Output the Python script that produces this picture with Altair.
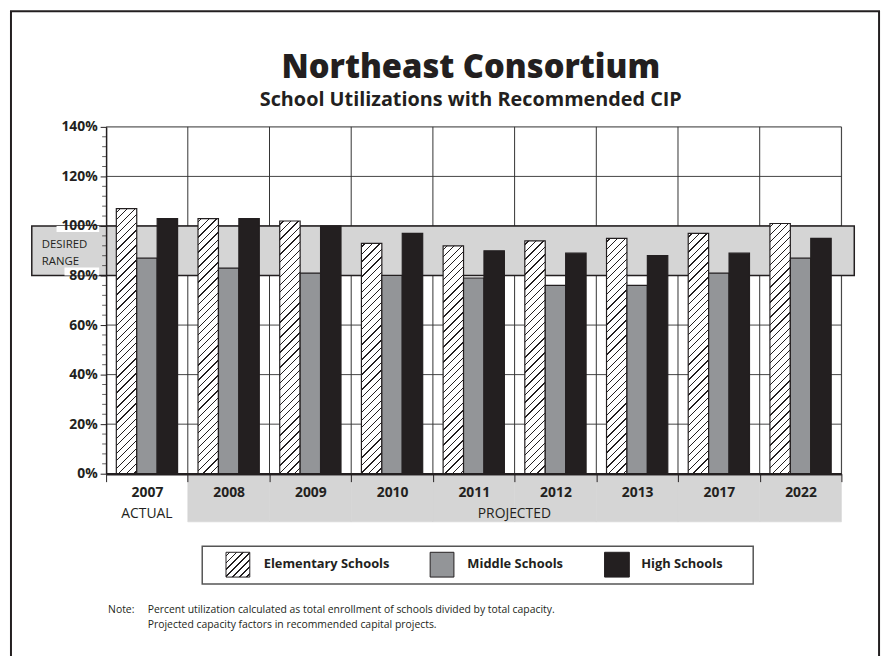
import altair as alt
import pandas as pd

# ---------------- data ----------------
years = ["2007", "2008", "2009", "2010", "2011", "2012", "2013", "2017", "2022"]
schools = ["Elementary Schools", "Middle Schools", "High Schools"]
elementary = [107, 103, 102, 93, 92, 94, 95, 97, 101]
middle = [87, 83, 81, 80, 79, 76, 76, 81, 87]
high = [103, 103, 100, 97, 90, 89, 88, 89, 95]
y_ticks = [0, 20, 40, 60, 80, 100, 120, 140]
y_minor = [4, 8, 12, 16, 24, 28, 32, 36, 44, 48, 52, 56, 64, 68, 72, 76,
           84, 88, 92, 96, 104, 108, 112, 116, 124, 128, 132, 136]
desired_range = [80, 100]
title = "Northeast Consortium"
subtitle = "School Utilizations with Recommended CIP"
note_lines = ["Percent utilization calculated as total enrollment of schools divided by total capacity.",
              "Projected capacity factors in recommended capital projects."]

# ---------------- style ----------------
FONT = "Open Sans"
INK = "#231f20"
GRAY = "#939598"
SCREEN = "#d5d5d5"
WIDTH, HEIGHT = 742, 350
YMAX = 140
PX = HEIGHT / YMAX
BAR_W = WIDTH / len(years) / 4


def hatch(w, h, period=7.6, lw=1.3):
    """Linear gradient that draws '/' stripes at 45 deg inside a w x h box."""
    L = w + h
    s = (w + h) * w / (w * w + h * h)
    stops = [{"offset": 0, "color": "white"}]
    c = period / 2
    while c - lw / 2 < L:
        a = max(0.0, (c - lw / 2) / L)
        b = min(1.0, (c + lw / 2) / L)
        stops += [{"offset": a, "color": "white"}, {"offset": a, "color": INK},
                  {"offset": b, "color": INK}, {"offset": b, "color": "white"}]
        c += period
    stops.append({"offset": 1, "color": "white"})
    return {"gradient": "linear", "x1": 0, "y1": 0, "x2": s, "y2": s * h / w, "stops": stops}


rows = []
for i, yr in enumerate(years):
    rows.append({"year": yr, "school": schools[0], "value": elementary[i]})
    rows.append({"year": yr, "school": schools[1], "value": middle[i]})
    rows.append({"year": yr, "school": schools[2], "value": high[i]})
df = pd.DataFrame(rows)

x_scale = alt.Scale(paddingInner=0, paddingOuter=0)
y_scale = alt.Scale(domain=[0, YMAX], nice=False, zero=True)

X_AXIS = alt.Axis(title=None, tickBand="extent", tickSize=8, tickColor=INK, tickWidth=1,
                  domainColor=INK, domainWidth=2.5, labelFont=FONT, labelFontSize=14,
                  labelFontWeight="bold", labelColor=INK, labelPadding=4, labelAngle=0,
                  grid=False, zindex=1)
Y_AXIS = alt.Axis(title=None, values=y_ticks, labelExpr="datum.value + '%'", tickSize=6,
                  tickColor=INK, domainColor=INK, domainWidth=1.5, labelFont=FONT,
                  labelFontSize=14, labelFontWeight="bold", labelColor=INK, labelPadding=3,
                  grid=False, zindex=1)


def X(field, **kw):
    return alt.X(field, sort=years, scale=x_scale, axis=X_AXIS, **kw)


def Y(field):
    return alt.Y(field, scale=y_scale, axis=Y_AXIS)


# fill: hatched elementary (per-bar gradient keeps 45 deg stripes), gray middle, black high
fill = None
for yr, v in zip(years, elementary):
    pred = (alt.datum.school == schools[0]) & (alt.datum.year == yr)
    g = alt.value(hatch(BAR_W, v * PX))
    fill = alt.when(pred).then(g) if fill is None else fill.when(pred).then(g)
fill = fill.when(alt.datum.school == schools[1]).then(alt.value(GRAY)).otherwise(alt.value(INK))


def one():
    return alt.Data(values=[{"k": 1}])


def text_mark(txt, x, y, size, weight="normal", align="left", baseline="alphabetic"):
    return alt.Chart(alt.Data(values=[{"label": txt}])).mark_text(
        align=align, baseline=baseline, fontSize=size, fontWeight=weight, color=INK, font=FONT
    ).encode(x=alt.value(x), y=alt.value(y), text="label:N")


frame = alt.Chart(one()).mark_rect(fillOpacity=0, stroke=INK, strokeWidth=2).encode(
    x=alt.value(-96), x2=alt.value(780), y=alt.value(-116.7), y2=alt.value(620))

hgrid = alt.Chart(pd.DataFrame({"v": y_ticks[1:]})).mark_rule(color="#444", strokeWidth=1).encode(
    y=Y("v:Q"), x=alt.value(0), x2=alt.value(WIDTH))

vgrid = alt.Chart(pd.DataFrame({"year": years[1:]})).mark_rule(color="#333", strokeWidth=1).encode(
    x=X("year:N", bandPosition=0), y=alt.value(0), y2=alt.value(HEIGHT))

right_border = alt.Chart(one()).mark_rule(color="#333", strokeWidth=1).encode(
    x=alt.value(WIDTH), y=alt.value(0), y2=alt.value(HEIGHT))

band = alt.Chart(pd.DataFrame({"lo": [desired_range[0]], "hi": [desired_range[1]]})).mark_rect(
    fill=SCREEN, stroke=INK, strokeWidth=1.5).encode(
    y=Y("lo:Q"), y2="hi:Q", x=alt.value(-75), x2=alt.value(755))

white100 = alt.Chart(pd.DataFrame({"lo": [97.6], "hi": [100]})).mark_rect(fill="white").encode(
    y=Y("lo:Q"), y2="hi:Q", x=alt.value(-50), x2=alt.value(-7))
white80 = alt.Chart(pd.DataFrame({"lo": [80], "hi": [83.2]})).mark_rect(fill="white").encode(
    y=Y("lo:Q"), y2="hi:Q", x=alt.value(-42), x2=alt.value(-7))

proj = alt.Chart(pd.DataFrame({"year": years[1:]})).mark_rect(
    fill=SCREEN, stroke=SCREEN, strokeWidth=0.6).encode(
    x=X("year:N"), y=alt.value(352), y2=alt.value(398.6))

bars = alt.Chart(df).mark_bar(stroke=INK, strokeWidth=1.2).encode(
    x=X("year:N"),
    xOffset=alt.XOffset("school:N", sort=schools, scale=alt.Scale(paddingOuter=0.5, paddingInner=0)),
    y=Y("value:Q"),
    fill=fill,
)

minor = alt.Chart(pd.DataFrame({"v": y_minor})).mark_tick(color=INK, size=4, thickness=1).encode(
    y=Y("v:Q"), x=alt.value(-2))

# legend (drawn by hand so the hatch can be shown)
leg_box = alt.Chart(one()).mark_rect(fill="white", stroke="#555", strokeWidth=1.5).encode(
    x=alt.value(97), x2=alt.value(653), y=alt.value(423.3), y2=alt.value(461.3))
sw_elem = alt.Chart(one()).mark_rect(fill=hatch(24, 25, period=7.0), stroke=INK, strokeWidth=1).encode(
    x=alt.value(121), x2=alt.value(145), y=alt.value(429.3), y2=alt.value(454.3))
sw_mid = alt.Chart(one()).mark_rect(fill=GRAY, stroke=INK, strokeWidth=1).encode(
    x=alt.value(327), x2=alt.value(351), y=alt.value(429.3), y2=alt.value(454.3))
sw_high = alt.Chart(one()).mark_rect(fill=INK, stroke=INK, strokeWidth=1).encode(
    x=alt.value(503), x2=alt.value(528), y=alt.value(429.3), y2=alt.value(454.3))

texts = [
    text_mark(title, 368, -49.7, 33, weight=800, align="center"),
    text_mark(subtitle, 368, -20.7, 20, weight="bold", align="center"),
    text_mark("DESIRED", -65, 122, 11.5),
    text_mark("RANGE", -65, 139.3, 11.5),
    text_mark("ACTUAL", WIDTH / len(years) / 2, 394.3, 14, align="center"),
    text_mark("PROJECTED", 412, 394.3, 14, align="center"),
    text_mark(schools[0], 159, 441.3, 13, weight="bold", baseline="middle"),
    text_mark(schools[1], 364.5, 441.3, 13, weight="bold", baseline="middle"),
    text_mark(schools[2], 540, 441.3, 13, weight="bold", baseline="middle"),
    text_mark("Note:", 2, 490.3, 10.5),
    text_mark(note_lines[0], 42, 490.3, 10.5),
    text_mark(note_lines[1], 42, 505.3, 10.5),
]

chart = alt.layer(
    frame, hgrid, vgrid, right_border, band, white100, white80, proj, bars, minor,
    leg_box, sw_elem, sw_mid, sw_high, *texts
).properties(
    width=WIDTH, height=HEIGHT,
    autosize=alt.AutoSizeParams(type="none"),
    padding={"left": 99, "top": 117, "right": 44, "bottom": 181},
).configure_view(stroke=None).configure(font=FONT)

chart.save("out.html", embed_options={"renderer": "svg", "actions": False})
